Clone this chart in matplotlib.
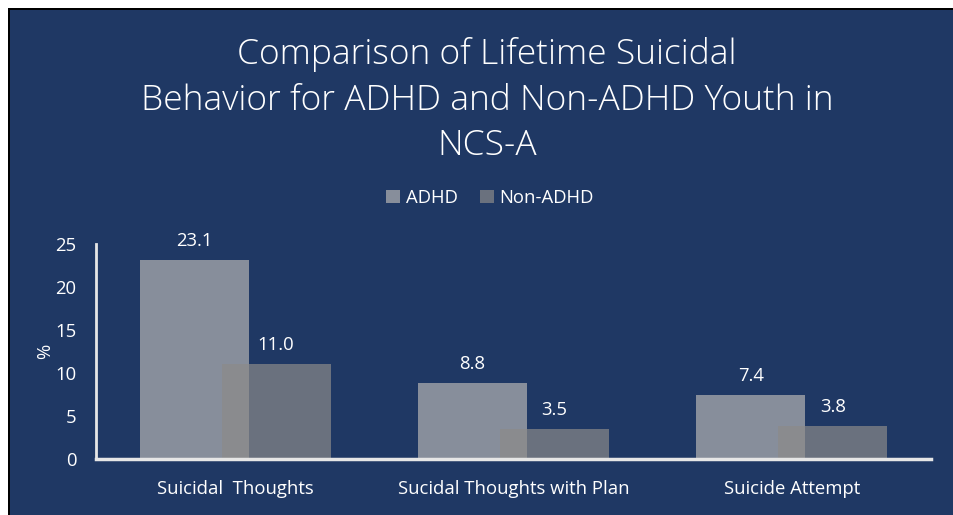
import numpy as np
import matplotlib.pyplot as plt
from matplotlib.patches import Rectangle

categories = ["Suicidal  Thoughts", "Sucidal Thoughts with Plan", "Suicide Attempt"]
adhd = [23.1, 8.8, 7.4]
non_adhd = [11.0, 3.5, 3.8]
yticks = [0, 5, 10, 15, 20, 25]

navy = "#1f3864"
c_adhd = "#878e9b"
c_non = "#6a717e"
c_overlap = "#8a8b8e"
axis_col = "#e6e6e6"
fnt = "Open Sans"
fs = 13.3

fig = plt.figure(figsize=[9.54, 5.15], dpi=100)
fig.patch.set_facecolor("white")
W, H = 954, 515
# navy panel with thin black edge on left/top
fig.patches.append(Rectangle((8 / W, 0), 1 - 8 / W, 1 - 8 / H, transform=fig.transFigure,
                             facecolor="black", edgecolor="none", zorder=-2))
fig.patches.append(Rectangle((10 / W, 0), 1 - 10 / W, 1 - 10 / H, transform=fig.transFigure,
                             facecolor=navy, edgecolor="none", zorder=-1))

ax = fig.add_axes([96 / W, (515 - 459) / H, (931 - 96) / W, (459 - 244) / H])
ax.set_facecolor("none")
ax.set_zorder(2)

x = np.arange(len(categories))
w = 0.392
off = 0.147
ax.bar(x - off, adhd, w, color=c_adhd, linewidth=0, zorder=2, label="ADHD")
ax.bar(x + off, non_adhd, w, color=c_non, linewidth=0, zorder=2, label="Non-ADHD")
# overlapping region of the two bars
ov_left = x + off - w / 2
ov_right = x - off + w / 2
ax.bar(ov_left, np.minimum(adhd, non_adhd), ov_right - ov_left, align="edge",
       color=c_overlap, linewidth=0, zorder=3)

for i in range(len(categories)):
    ax.text(x[i] - off, adhd[i] + 1.2, "%.1f" % adhd[i], ha="center", va="bottom",
            color="white", fontsize=fs, family=fnt)
    ax.text(x[i] + off, non_adhd[i] + 1.2, "%.1f" % non_adhd[i], ha="center", va="bottom",
            color="white", fontsize=fs, family=fnt)

ax.set_xlim(-0.5, 2.5)
ax.set_ylim(0, 25)
ax.set_yticks(yticks)
ax.set_yticklabels([str(v) for v in yticks], color="white", fontsize=fs, family=fnt)
ax.set_xticks(x)
ax.set_xticklabels(categories, color="white", fontsize=fs, family=fnt)
ax.tick_params(axis="y", length=0, pad=14)
ax.tick_params(axis="x", length=0, pad=15)
for s in ["top", "right"]:
    ax.spines[s].set_visible(False)
ax.spines["left"].set_color(axis_col)
ax.spines["left"].set_linewidth(2)
ax.spines["bottom"].set_color(axis_col)
ax.spines["bottom"].set_linewidth(2.5)
ax.spines["bottom"].set_zorder(4)
ax.set_ylabel("%", color="white", fontsize=fs, family=fnt, labelpad=1)

fig.text(487 / W, 1 - 100 / H,
         "Comparison of Lifetime Suicidal\nBehavior for ADHD and Non-ADHD Youth in\nNCS-A",
         ha="center", va="center", color="white", fontsize=25.5, family=fnt,
         fontweight="light", linespacing=1.4)

leg = ax.legend(loc="center", bbox_to_anchor=(490 / W, 1 - 198 / H),
                bbox_transform=fig.transFigure, ncol=2, frameon=False,
                handlelength=0.75, handleheight=0.75, handletextpad=0.3,
                columnspacing=1.2, prop={"family": fnt, "size": fs})
for t in leg.get_texts():
    t.set_color("white")

fig.savefig("out.png", dpi=100, facecolor=fig.get_facecolor())
